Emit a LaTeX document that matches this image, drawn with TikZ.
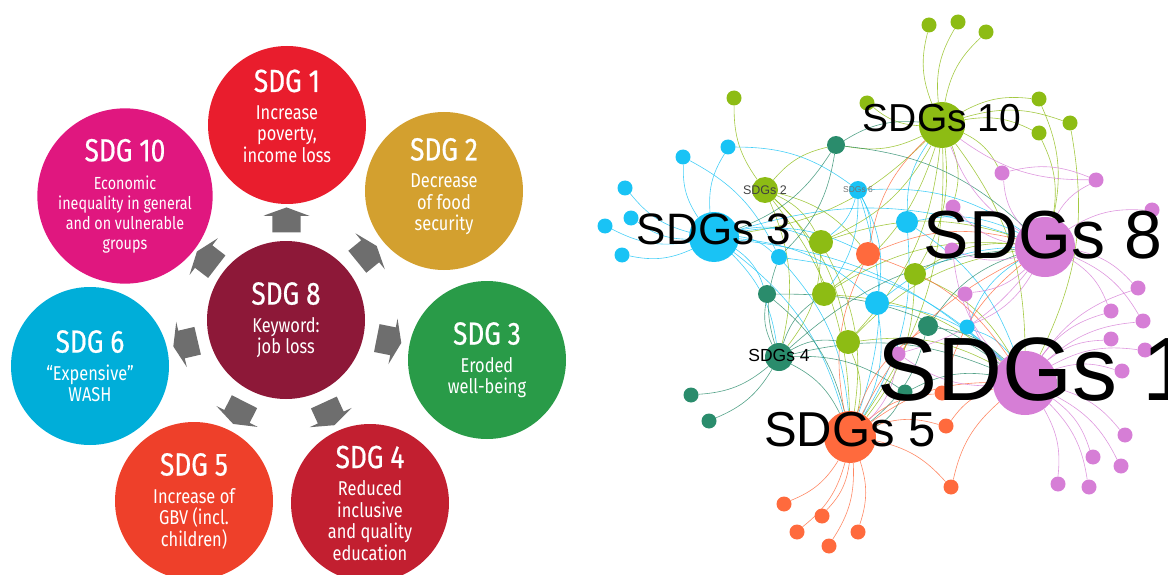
\documentclass[tikz,border=0pt]{standalone}
\usepackage{fontspec}
\setmainfont{Liberation Sans}
\newfontfamily\sdgfont[FakeStretch=0.82]{Fira Sans}
\newfontfamily\sdgheadfont[FakeStretch=0.82,FakeBold=0.6]{Fira Sans}
\usepackage{tikz}
\usetikzlibrary{shapes.arrows,backgrounds}

\definecolor{sdgone}{HTML}{E91D2D}
\definecolor{sdgtwo}{HTML}{D3A02F}
\definecolor{sdgthree}{HTML}{299B48}
\definecolor{sdgfour}{HTML}{C21F30}
\definecolor{sdgfive}{HTML}{EE402A}
\definecolor{sdgsix}{HTML}{00AED9}
\definecolor{sdgeight}{HTML}{8D1838}
\definecolor{sdgten}{HTML}{E0177F}
\definecolor{arrowgrey}{HTML}{6E6E6E}
\definecolor{netgreen}{HTML}{8DBC14}
\definecolor{netcyan}{HTML}{19C3F5}
\definecolor{netdkgreen}{HTML}{2A8C6C}
\definecolor{netorange}{HTML}{FF6A3D}
\definecolor{netpurple}{HTML}{D67ED6}

\newcommand{\sdgtitle}[1]{{\sdgheadfont\fontsize{32}{32}\selectfont #1}}

\begin{document}
\begin{tikzpicture}[x=1pt,y=1pt]
		\useasboundingbox (0,0) rectangle (1168,-575);

		% SDG 8 and its neighbours
		\begin{scope}[every node/.style={circle,inner sep=0pt,minimum size=158,text=white,align=center,
					  font=\sdgfont\fontsize{20}{21.5}\selectfont}]
			\node[fill=sdgeight] (sdg8) at (286,-320) {\sdgtitle{SDG 8}\\[6pt]Keyword:\\job loss};

			\node[fill=sdgone,text depth=18pt] (sdg1) at (287,-125) {\sdgtitle{SDG 1}\\[6pt]Increase\\poverty,\\income loss};
			\node[fill=sdgtwo,text depth=13pt] (sdg2) at (444,-191) {\sdgtitle{SDG 2}\\[6pt]Decrease\\of food\\security};
			\node[fill=sdgthree] (sdg3) at (487,-360) {\sdgtitle{SDG 3}\\[6pt]Eroded\\well-being};
			\node[fill=sdgfour] (sdg4) at (370,-503) {\sdgtitle{SDG 4}\\[6pt]Reduced\\inclusive\\and quality\\education};
			\node[fill=sdgfive] (sdg5) at (194,-501) {\sdgtitle{SDG 5}\\[6pt]Increase of\\GBV (incl.\\children)};
			\node[fill=sdgsix] (sdg6) at (90,-366) {\sdgtitle{SDG 6}\\[6pt]“Expensive”\\WASH};
			\node[fill=sdgten,font=\sdgfont\fontsize{17.5}{20}\selectfont] (sdg10) at (125,-196)
				{\sdgtitle{SDG 10}\\[8pt]Economic\\inequality in general\\and on vulnerable\\groups};
		\end{scope}

		\begin{scope}[every node/.style={single arrow,fill=arrowgrey,inner xsep=0pt,inner ysep=14pt,
					  minimum height=25,single arrow head extend=9,
					  single arrow tip angle=140,sloped,allow upside down}]
			\path (sdg8) -- node {} (sdg1);
			\path (sdg8) -- node {} (sdg2);
			\path (sdg8) -- node {} (sdg3);
			\path (sdg8) -- node {} (sdg4);
			\path (sdg8) -- node {} (sdg5);
			\path (sdg8) -- node {} (sdg6);
			\path (sdg8) -- node {} (sdg10);
		\end{scope}

		% network of SDGs
		\begin{scope}[every node/.style={circle,inner sep=0pt,minimum size=15}]
			\node[fill=netgreen,minimum size=46] (n10) at (942,-125) {};
			\node[fill=netcyan,minimum size=50] (n3) at (714,-237) {};
			\node[fill=netpurple,minimum size=60] (n8) at (1045,-247) {};
			\node[fill=netpurple,minimum size=64] (n1) at (1025,-383) {};
			\node[fill=netorange,minimum size=52] (n5) at (850,-437) {};
			\node[fill=netdkgreen,minimum size=28] (n4) at (779,-357) {};
			\node[fill=netgreen,minimum size=26] (n2) at (765,-190) {};
			\node[fill=netcyan,minimum size=18] (n6) at (858,-190) {};

			\node[fill=netgreen,minimum size=24] (c1) at (821,-242) {};
			\node[fill=netorange,minimum size=24] (c2) at (868,-254) {};
			\node[fill=netcyan,minimum size=22] (c3) at (907,-222) {};
			\node[fill=netgreen,minimum size=22] (c4) at (915,-274) {};
			\node[fill=netdkgreen,minimum size=18] (c5) at (767,-294) {};
			\node[fill=netgreen,minimum size=24] (c6) at (824,-294) {};
			\node[fill=netcyan,minimum size=24] (c7) at (877,-303) {};
			\node[fill=netdkgreen,minimum size=20] (c8) at (928,-326) {};
			\node[fill=netcyan] (c9) at (967,-327) {};
			\node[fill=netgreen,minimum size=24] (c10) at (848,-342) {};
			\node[fill=netcyan,minimum size=16] (c11) at (779,-257) {};
			\node[fill=netdkgreen,minimum size=18] (c12) at (836,-145) {};

			\node[fill=netgreen] (a1) at (929,-25) {};
			\node[fill=netgreen] (a2) at (958,-22) {};
			\node[fill=netgreen] (a3) at (986,-32) {};
			\node[fill=netgreen] (a4) at (867,-103) {};
			\node[fill=netgreen] (a5) at (1039,-99) {};
			\node[fill=netgreen] (a6) at (1070,-123) {};
			\node[fill=netgreen] (a7) at (1039,-133) {};
			\node[fill=netgreen] (a8) at (734,-98) {};

			\node[fill=netcyan] (b1) at (728,-147) {};
			\node[fill=netcyan] (b2) at (683,-157) {};
			\node[fill=netcyan] (b3) at (625,-188) {};
			\node[fill=netcyan] (b4) at (605,-226) {};
			\node[fill=netcyan] (b5) at (631,-218) {};
			\node[fill=netcyan] (b6) at (622,-255) {};

			\node[fill=netpurple] (p1) at (1002,-173) {};
			\node[fill=netpurple] (p2) at (1096,-180) {};
			\node[fill=netpurple] (p3) at (1152,-210) {};
			\node[fill=netpurple] (p4) at (953,-207) {};
			\node[fill=netpurple] (p5) at (952,-250) {};
			\node[fill=netpurple] (p6) at (965,-294) {};
			\node[fill=netpurple] (p7) at (1138,-288) {};

			\node[fill=netpurple] (q1) at (1111,-311) {};
			\node[fill=netpurple] (q2) at (1143,-321) {};
			\node[fill=netpurple] (q3) at (1111,-339) {};
			\node[fill=netpurple] (q4) at (1145,-350) {};
			\node[fill=netpurple] (q5) at (1122,-371) {};
			\node[fill=netpurple] (q6) at (1125,-435) {};
			\node[fill=netpurple] (q7) at (1093,-457) {};
			\node[fill=netpurple] (q8) at (1121,-466) {};
			\node[fill=netpurple] (q9) at (1058,-484) {};
			\node[fill=netpurple] (q10) at (1089,-487) {};
			\node[fill=netpurple] (q11) at (898,-354) {};

			\node[fill=netorange] (o1) at (784,-504) {};
			\node[fill=netorange] (o2) at (822,-516) {};
			\node[fill=netorange] (o3) at (797,-532) {};
			\node[fill=netorange] (o4) at (858,-532) {};
			\node[fill=netorange] (o5) at (829,-546) {};
			\node[fill=netorange] (o6) at (951,-487) {};
			\node[fill=netorange] (o7) at (946,-426) {};
			\node[fill=netorange] (o8) at (942,-393) {};

			\node[fill=netdkgreen] (d1) at (691,-395) {};
			\node[fill=netdkgreen] (d2) at (709,-421) {};
			\node[fill=netdkgreen] (d3) at (905,-392) {};
		\end{scope}

		\begin{scope}[on background layer,
					  every edge/.style={draw,line width=0.6pt,draw opacity=0.8,bend left=18}]
			\path [color=netgreen] (n10) edge (a1) edge (a2) edge (a3) edge (a4) edge (a5) edge (a6) edge (a7)
				edge (c1) edge (c4) edge (c6) edge (c10) edge (n5) edge (n1) edge (n3) edge (c12) edge (p1) edge (p4);
			\path [color=netgreen] (a5) edge (n8) (a6) edge (n1) (a7) edge (n8);
			\path [color=netgreen] (n2) edge (a8) edge (c1) edge (c6) edge (c10) edge (n5) edge (c2) edge (c12) edge (n4);
			\path [color=netgreen] (c1) edge (n8) edge (n5) edge (n4) (c4) edge (n1) edge (n8) edge (n5)
				(c6) edge (n1) edge (n8) (c10) edge (n1) edge (n8) edge (n5);

			\path [color=netcyan] (n3) edge (b1) edge (b2) edge (b3) edge (b4) edge (b5) edge (b6)
				edge (c11) edge (c1) edge (c2) edge (c5) edge (c7) edge (n4) edge (n5) edge (n8) edge (n1);
			\path [color=netcyan] (b1) edge (n6) (b2) edge (c11)
				(n6) edge (c2) edge (c7) edge (c1) edge (c6) edge (n5) edge (n8)
				(c3) edge (n10) edge (n8) edge (n1) edge (n5) (c7) edge (n1) edge (n8) edge (n5)
				(c9) edge (n1) edge (n8) (c11) edge (n5) edge (n1);

			\path [color=netdkgreen] (n4) edge (d1) edge (d2) edge (d3) edge (c5) edge (c6) edge (c10)
				edge (n5) edge (n1) edge (n8) edge (c11);
			\path [color=netdkgreen] (c12) edge (n10) edge (n3) edge (n8) edge (c11)
				(c5) edge (n5) edge (n1) (c8) edge (n1) edge (n8) edge (n5) (d3) edge (n5) edge (n1);

			\path [color=netorange] (n5) edge (o1) edge (o2) edge (o3) edge (o4) edge (o5) edge (o6) edge (o7) edge (o8)
				edge (c2) edge (c8) edge (n8) edge (n1);
			\path [color=netorange] (o6) edge (n1) (o7) edge (n1) (o8) edge (n8) (c2) edge (n8) edge (n1) edge (n10);

			\path [color=netpurple] (n8) edge (p1) edge (p2) edge (p3) edge (p4) edge (p5) edge (p6) edge (p7)
				edge (q1) edge (q2) edge (q11) edge (n10) edge (c9);
			\path [color=netpurple] (n1) edge (q1) edge (q2) edge (q3) edge (q4) edge (q5) edge (q6) edge (q7)
				edge (q8) edge (q9) edge (q10) edge (q11) edge (p5) edge (p6) edge (p7);
			\path [color=netpurple] (p2) edge (n10) (p1) edge (p2) (q11) edge (n5);
		\end{scope}

		% labels of the network
		\begin{scope}[every node/.style={inner sep=0pt,text=black}]
			\node[font=\fontsize{39}{39}\selectfont] (l10) at ([yshift=7]n10) {SDGs 10};
			\node[font=\fontsize{44}{44}\selectfont] (l3) at ([yshift=8]n3) {SDGs 3};
			\node[font=\fontsize{68}{68}\selectfont] (l8) at ([xshift=-2,yshift=12]n8) {SDGs 8};
			\node[font=\fontsize{90}{90}\selectfont] (l1) at ([xshift=10,yshift=13]n1) {SDGs 1};
			\node[font=\fontsize{49}{49}\selectfont] (l5) at ([yshift=7]n5) {SDGs 5};
			\node[font=\fontsize{17.5}{17.5}\selectfont] (l4) at ([yshift=2]n4) {SDGs 4};
			\node[font=\fontsize{12.5}{12.5}\selectfont,text=black!75] (l2) at (n2) {SDGs 2};
			\node[font=\fontsize{8.5}{8.5}\selectfont,text=black!55] (l6) at (n6) {SDGs 6};
		\end{scope}
\end{tikzpicture}
\end{document}
